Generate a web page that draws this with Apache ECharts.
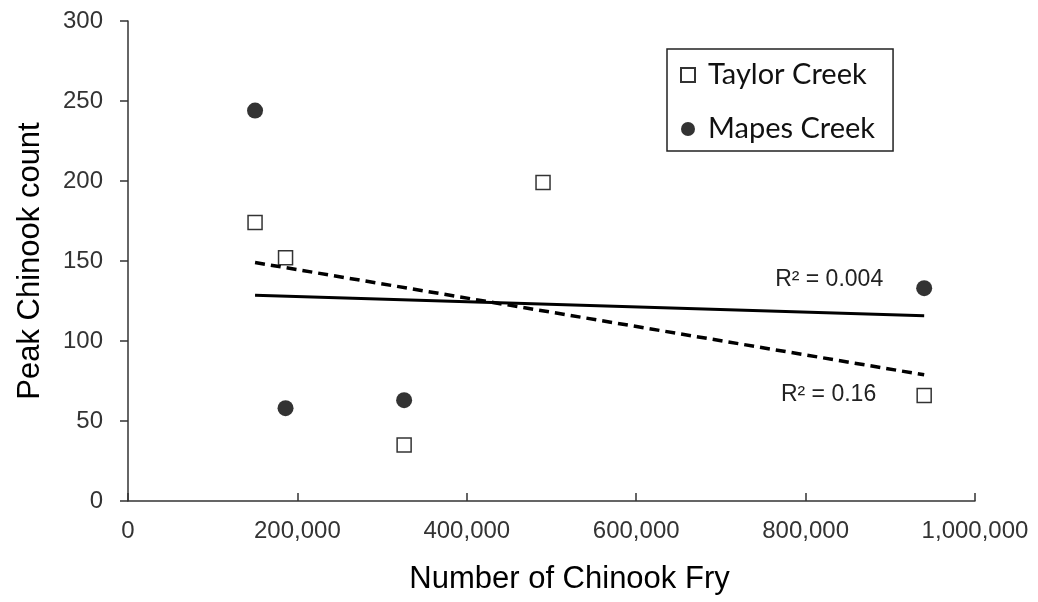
<!DOCTYPE html>
<html>
<head>
<meta charset="utf-8">
<script src="https://cdn.jsdelivr.net/npm/echarts@6/dist/echarts.min.js"></script>
<style>
html,body{margin:0;padding:0;background:#fff;}
#chart{width:1038px;height:602px;}
</style>
</head>
<body>
<div id="chart"></div>
<script>
// ---- data ----
const seriesNames = ['Taylor Creek', 'Mapes Creek'];
const taylorX = [150000, 186000, 490000, 326000, 940000];
const taylorY = [174, 152, 199, 35, 66];
const mapesX = [150000, 186000, 326000, 940000];
const mapesY = [244, 58, 63, 133];
const r2Labels = ['R\u00b2 = 0.16', 'R\u00b2 = 0.004'];
const xTicks = [0, 200000, 400000, 600000, 800000, 1000000];
const yTicks = [0, 50, 100, 150, 200, 250, 300];

function pairs(xs, ys) { return xs.map((x, i) => [x, ys[i]]); }
function fit(xs, ys) {
  const n = xs.length;
  const mx = xs.reduce((a, b) => a + b, 0) / n;
  const my = ys.reduce((a, b) => a + b, 0) / n;
  let sxy = 0, sxx = 0;
  for (let i = 0; i < n; i++) { sxy += (xs[i] - mx) * (ys[i] - my); sxx += (xs[i] - mx) ** 2; }
  const b = sxy / sxx, a = my - b * mx;
  const x0 = Math.min(...xs), x1 = Math.max(...xs);
  return [[x0, a + b * x0], [x1, a + b * x1]];
}
const taylorFit = fit(taylorX, taylorY);
const mapesFit = fit(mapesX, mapesY);

const chart = echarts.init(document.getElementById('chart'), null, {renderer: 'canvas'});
const tickFont = 'Liberation Sans, Arial, sans-serif';
const option = {
  animation: false,
  backgroundColor: '#fff',
  grid: {left: 128, right: 63, top: 21, bottom: 101, containLabel: false},
  xAxis: {
    type: 'value', min: xTicks[0], max: xTicks[xTicks.length - 1], interval: 200000,
    name: 'Number of Chinook Fry', nameLocation: 'middle', nameGap: 63,
    nameTextStyle: {fontFamily: tickFont, fontSize: 31, color: '#000', padding: [0, 0, 0, 36]},
    axisLine: {show: true, lineStyle: {color: '#333', width: 1.5}},
    axisTick: {show: true, inside: true, length: 8, lineStyle: {color: '#333', width: 1.5}},
    axisLabel: {fontFamily: tickFont, fontSize: 24, color: '#333', margin: 18,
      formatter: v => v.toLocaleString('en-US')},
    splitLine: {show: false}
  },
  yAxis: {
    type: 'value', min: yTicks[0], max: yTicks[yTicks.length - 1], interval: 50,
    name: 'Peak Chinook count', nameLocation: 'middle', nameGap: 82, nameRotate: 90,
    nameTextStyle: {fontFamily: tickFont, fontSize: 31, color: '#000'},
    axisLine: {show: true, lineStyle: {color: '#333', width: 1.5}},
    axisTick: {show: true, inside: false, length: 8, lineStyle: {color: '#333', width: 1.5}},
    axisLabel: {fontFamily: tickFont, fontSize: 24, color: '#333', margin: 25},
    splitLine: {show: false}
  },
  legend: {
    data: seriesNames,
    orient: 'vertical',
    left: 667, top: 49,
    padding: [9, 18, 5, 13],
    borderColor: '#222', borderWidth: 1.5,
    itemWidth: 14, itemHeight: 14, itemGap: 20,
    textStyle: {fontFamily: 'Lato, Carlito, sans-serif', fontSize: 29, color: '#111', lineHeight: 34,
      padding: [0, 0, 0, 8]}
  },
  series: [
    {
      name: 'taylorTrend', type: 'line', data: taylorFit, showSymbol: false, z: 1,
      lineStyle: {color: '#000', width: 3.5, type: [10, 6]}, silent: true
    },
    {
      name: 'mapesTrend', type: 'line', data: mapesFit, showSymbol: false, z: 1,
      lineStyle: {color: '#000', width: 3}, silent: true
    },
    {
      name: seriesNames[0], type: 'scatter', data: pairs(taylorX, taylorY), z: 5,
      symbol: 'rect', symbolSize: 14,
      itemStyle: {color: '#fff', borderColor: '#000', borderWidth: 1.5}
    },
    {
      name: seriesNames[1], type: 'scatter', data: pairs(mapesX, mapesY), z: 5,
      symbol: 'circle', symbolSize: 16,
      itemStyle: {color: '#000'}
    }
  ]
};
chart.setOption(option);

const tEnd = chart.convertToPixel({gridIndex: 0}, taylorFit[1]);
const mEnd = chart.convertToPixel({gridIndex: 0}, mapesFit[1]);
chart.setOption({
  graphic: [
    {type: 'text', x: tEnd[0] - 48, y: tEnd[1] + 20,
      style: {text: r2Labels[0], font: '23px Liberation Sans, Arial, sans-serif', fill: '#222',
        textAlign: 'right', textVerticalAlign: 'middle'}},
    {type: 'text', x: mEnd[0] - 41, y: mEnd[1] - 36,
      style: {text: r2Labels[1], font: '23px Liberation Sans, Arial, sans-serif', fill: '#222',
        textAlign: 'right', textVerticalAlign: 'middle'}}
  ]
});
</script>
</body>
</html>
